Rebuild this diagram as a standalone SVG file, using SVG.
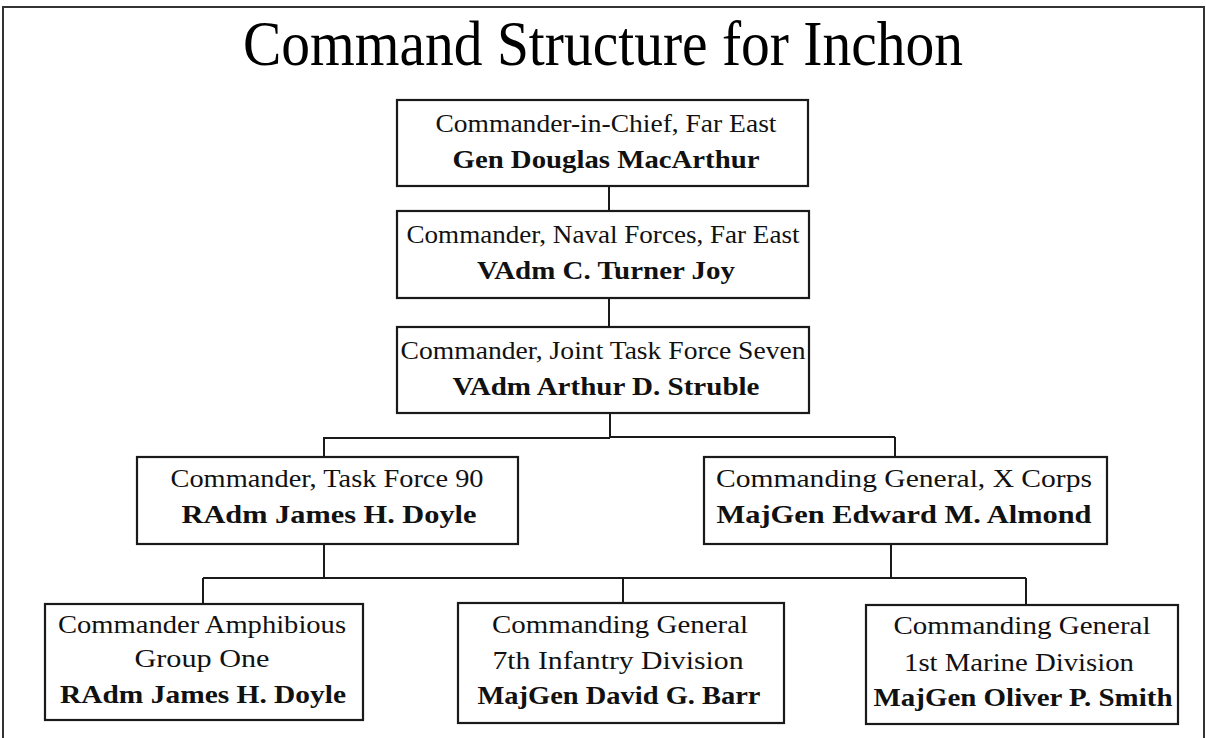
<svg xmlns="http://www.w3.org/2000/svg" width="1206" height="738" viewBox="0 0 1206 738">
<style>
.bg{fill:#ffffff}
.frame{fill:none;stroke:#333;stroke-width:2}
.box{fill:#ffffff;stroke:#1a1a1a;stroke-width:2.2}
.line{fill:none;stroke:#1a1a1a;stroke-width:2}
.t{font-family:"Liberation Serif","Times New Roman",serif;font-size:25px;fill:#111;text-anchor:middle}
.b{font-family:"Liberation Serif","Times New Roman",serif;font-size:25px;font-weight:bold;fill:#111;text-anchor:middle}
.title{font-family:"Liberation Serif","Times New Roman",serif;font-size:64px;fill:#000;text-anchor:middle}
</style>
<rect class="bg" x="0" y="0" width="1206" height="738"/>
<path class="frame" d="M3,738 V7 H1204 V738"/>
<text class="title" x="603" y="65" textLength="720" lengthAdjust="spacingAndGlyphs">Command Structure for Inchon</text>

<g id="connectors">
<path class="line" d="M609,186 V211"/>
<path class="line" d="M609,298 V327"/>
<path class="line" d="M610,413 V437 M324,438 H610 M610,437 H895 M324,437 V457 M895,437 V457"/>
<path class="line" d="M324,544 V578 M891,544 V578 M203,578 H1026 M203,578 V604 M623,578 V603 M1026,578 V605"/>
</g>

<g id="cinc">
<rect class="box" x="397" y="100" width="411" height="86"/>
<text class="t" x="606" y="132" textLength="341" lengthAdjust="spacingAndGlyphs">Commander-in-Chief, Far East</text>
<text class="b" x="606" y="168" textLength="307" lengthAdjust="spacingAndGlyphs">Gen Douglas MacArthur</text>
</g>

<g id="navfe">
<rect class="box" x="397" y="211" width="412" height="87"/>
<text class="t" x="603" y="243" textLength="393" lengthAdjust="spacingAndGlyphs">Commander, Naval Forces, Far East</text>
<text class="b" x="606" y="279" textLength="258" lengthAdjust="spacingAndGlyphs">VAdm C. Turner Joy</text>
</g>

<g id="jtf7">
<rect class="box" x="397" y="327" width="412" height="86"/>
<text class="t" x="603" y="359" textLength="405" lengthAdjust="spacingAndGlyphs">Commander, Joint Task Force Seven</text>
<text class="b" x="606" y="395" textLength="307" lengthAdjust="spacingAndGlyphs">VAdm Arthur D. Struble</text>
</g>

<g id="tf90">
<rect class="box" x="137" y="457" width="381" height="87"/>
<text class="t" x="327" y="487" textLength="313" lengthAdjust="spacingAndGlyphs">Commander, Task Force 90</text>
<text class="b" x="329" y="523" textLength="295" lengthAdjust="spacingAndGlyphs">RAdm James H. Doyle</text>
</g>

<g id="xcorps">
<rect class="box" x="704" y="457" width="403" height="87"/>
<text class="t" x="904" y="487" textLength="376" lengthAdjust="spacingAndGlyphs">Commanding General, X Corps</text>
<text class="b" x="904" y="523" textLength="375" lengthAdjust="spacingAndGlyphs">MajGen Edward M. Almond</text>
</g>

<g id="phibgru1">
<rect class="box" x="45" y="604" width="318" height="116"/>
<text class="t" x="202" y="633" textLength="288" lengthAdjust="spacingAndGlyphs">Commander Amphibious</text>
<text class="t" x="202" y="667" textLength="135" lengthAdjust="spacingAndGlyphs">Group One</text>
<text class="b" x="203" y="703" textLength="286" lengthAdjust="spacingAndGlyphs">RAdm James H. Doyle</text>
</g>

<g id="inf7">
<rect class="box" x="458" y="603" width="326" height="120"/>
<text class="t" x="620" y="633" textLength="256" lengthAdjust="spacingAndGlyphs">Commanding General</text>
<text class="t" x="618" y="669" textLength="251" lengthAdjust="spacingAndGlyphs">7th Infantry Division</text>
<text class="b" x="619" y="704" textLength="283" lengthAdjust="spacingAndGlyphs">MajGen David G. Barr</text>
</g>

<g id="mar1">
<rect class="box" x="866" y="605" width="312" height="119"/>
<text class="t" x="1022" y="634" textLength="257" lengthAdjust="spacingAndGlyphs">Commanding General</text>
<text class="t" x="1019" y="671" textLength="230" lengthAdjust="spacingAndGlyphs">1st Marine Division</text>
<text class="b" x="1023" y="706" textLength="299" lengthAdjust="spacingAndGlyphs">MajGen Oliver P. Smith</text>
</g>
</svg>
